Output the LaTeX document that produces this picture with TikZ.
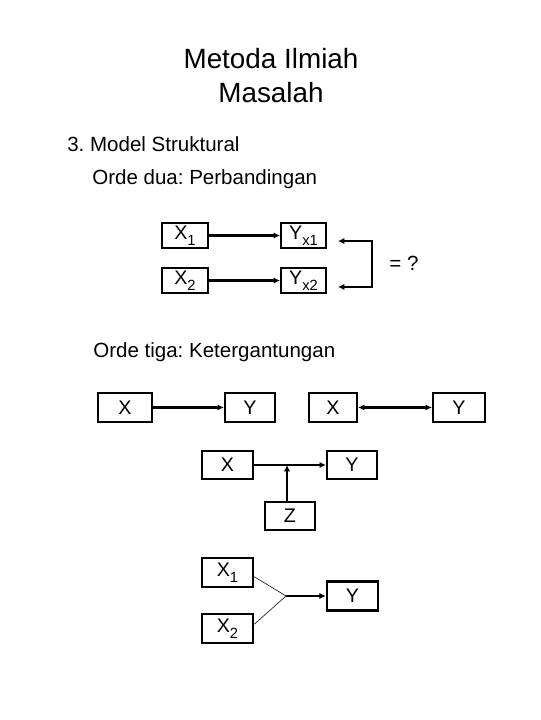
\documentclass[tikz,border=0pt]{standalone}
\usepackage{fontspec}
\setmainfont{Liberation Sans}
\usetikzlibrary{arrows.meta}
\newcommand{\bawah}[1]{\raisebox{-.6ex}{\fontsize{10.5}{11}\selectfont #1}}
\frenchspacing

\begin{document}
\begin{tikzpicture}[x=0.025cm,y=-0.025cm,
		kotak/.style={draw,line width=1.6pt,minimum height=0.7cm,inner sep=0pt,font=\fontsize{14}{16}\selectfont},
		panah/.style={line width=1.5pt,-{Latex[length=4.5pt,width=4.5pt]}},
		judul/.style={anchor=base,font=\fontsize{19.8}{22}\selectfont},
		teks/.style={anchor=base west,inner sep=0pt,font=\fontsize{14.6}{17}\selectfont}]
			\useasboundingbox (0,0) rectangle (540,720);
			\node[judul] at (271,69) {Metoda Ilmiah};
			\node[judul] at (271,103) {Masalah};
			\node[teks] at (67,152) {3. Model Struktural};
			\node[teks] at (92,185) {Orde dua: Perbandingan};
			\node[teks] at (93,357) {Orde tiga: Ketergantungan};
			\node[kotak,minimum width=1.15cm,minimum height=0.63cm] (xa) at (185,235.5) {X\bawah{1}};
			\node[kotak,minimum width=1.12cm,minimum height=0.63cm] (ya) at (303.5,235.5) {Y\bawah{x1}};
			\node[kotak,minimum width=1.15cm,minimum height=0.63cm] (xb) at (185,280.5) {X\bawah{2}};
			\node[kotak,minimum width=1.12cm,minimum height=0.63cm] (yb) at (303.5,280.5) {Y\bawah{x2}};
			\draw[panah] (xa) -- (ya);
			\draw[panah] (xb) -- (yb);
			\coordinate (ka) at (338,241);
			\coordinate (kb) at (338,287);
			\coordinate (sa) at (372,241);
			\coordinate (sb) at (372,287);
			\draw[panah,{Latex[length=4.5pt,width=4.5pt]}-{Latex[length=4.5pt,width=4.5pt]}] (ka) -- (sa) -- (sb) -- (kb);
			\node[font=\fontsize{14.6}{17}\selectfont] (sama) at (404,263) {= ?};
			\node[kotak,minimum width=1.35cm,minimum height=0.73cm] (x3) at (125,407.5) {X};
			\node[kotak,minimum width=1.25cm,minimum height=0.73cm] (y3) at (250,407.5) {Y};
			\draw[panah] (x3) -- (y3);
			\node[kotak,minimum width=1.2cm,minimum height=0.73cm] (x4) at (333,407.5) {X};
			\node[kotak,minimum width=1.3cm,minimum height=0.73cm] (y4) at (459,407.5) {Y};
			\draw[panah,{Latex[length=4.5pt,width=4.5pt]}-{Latex[length=4.5pt,width=4.5pt]}] (x4) -- (y4);
			\node[kotak,minimum width=1.28cm] (x5) at (227.5,465) {X};
			\node[kotak,minimum width=1.25cm] (y5) at (352,465) {Y};
			\node[kotak,minimum width=1.25cm] (z5) at (290,516) {Z};
			\coordinate (t5) at (287,465);
			\draw[panah] (x5) -- (y5);
			\draw[panah] (z5.north -| t5) -- (t5);
			\node[kotak,minimum width=1.28cm,minimum height=0.73cm] (x6) at (227.5,572.5) {X\bawah{1}};
			\node[kotak,minimum width=1.28cm,minimum height=0.73cm] (x7) at (227.5,628.5) {X\bawah{2}};
			\node[kotak,minimum width=1.28cm,minimum height=0.73cm] (y6) at (352.5,596) {Y};
			\coordinate (t6) at (286,596);
			\draw[line width=0.4pt] ([yshift=-3pt]x6.east) -- (t6) -- ([yshift=3pt]x7.east);
			\draw[panah] (t6) -- (y6);
		\end{tikzpicture}
\end{document}
